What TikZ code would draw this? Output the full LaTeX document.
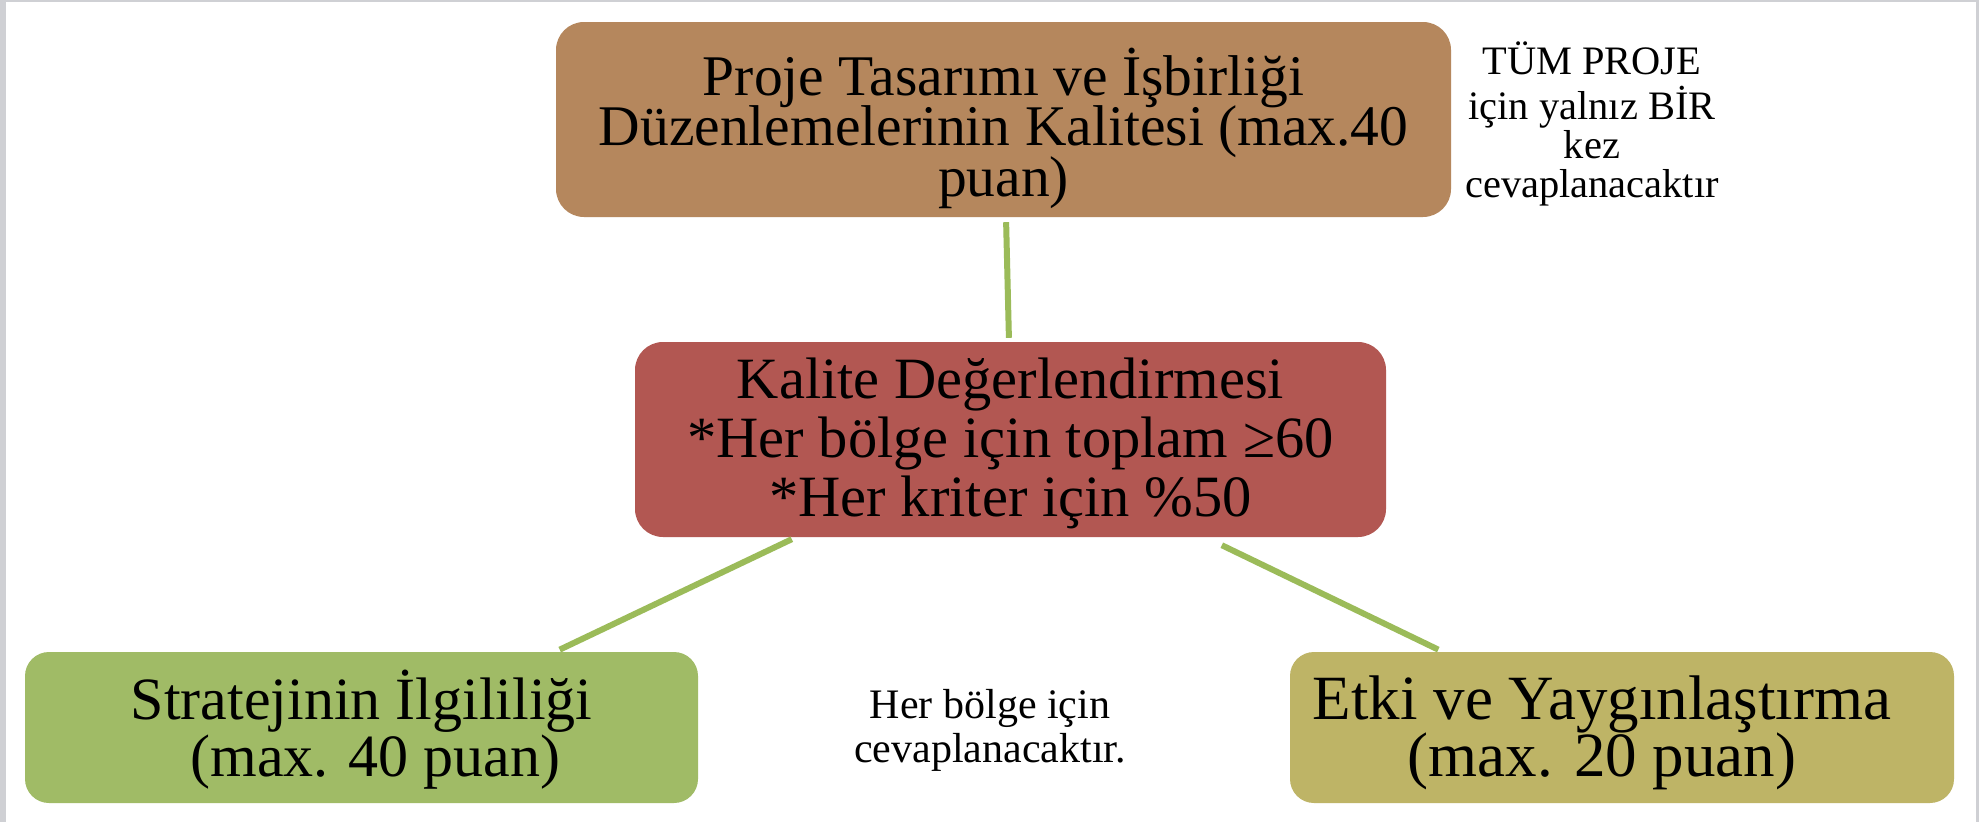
\documentclass[tikz,border=0pt]{standalone}
\usepackage{fontspec}
\setmainfont{Liberation Serif}
\newcommand\tightlines{\lineskiplimit=-100pt\relax}
\newcommand\topstrut[1]{\rule{0pt}{#1}}
\newcommand\botstrut[1]{\rule[-#1]{0pt}{0pt}}
\definecolor{bgGray}{RGB}{207,208,212}
\definecolor{topBrown}{RGB}{181,135,93}
\definecolor{midRed}{RGB}{178,87,82}
\definecolor{leftGreen}{RGB}{160,187,102}
\definecolor{rightOlive}{RGB}{190,180,102}
\definecolor{lineGreen}{RGB}{155,187,89}
\begin{document}
\begin{tikzpicture}[x=1pt,y=-1pt,
  box/.style={rounded corners=28pt, inner sep=0pt, align=center, text=black},
  note/.style={inner sep=0pt, align=center, text=black},
  conn/.style={draw=lineGreen, line width=6pt}]
\useasboundingbox (0,0) rectangle (1979,822);
\fill[bgGray] (0,0) rectangle (1979,822);
\fill[white] (6,2) rectangle (1976,822);
\node[box, fill=topBrown, minimum width=895pt, minimum height=195pt,
      font=\fontsize{57.5}{50.5}\selectfont\tightlines] (top) at (1003.5,119.5)
  {\topstrut{66pt}Proje Tasarımı ve İşbirliği\\Düzenlemelerinin Kalitesi (max.40\\puan)\botstrut{14pt}};
\node[box, fill=midRed, minimum width=751pt, minimum height=195pt,
      font=\fontsize{58.5}{59}\selectfont\tightlines] (mid) at (1010.5,439.5)
  {\topstrut{56pt}Kalite Değerlendirmesi\\*Her bölge için toplam ≥60\\*Her kriter için \%50\botstrut{21pt}};
\node[box, rounded corners=24pt, fill=leftGreen, minimum width=673pt, minimum height=151pt,
      font=\fontsize{60}{57}\selectfont\tightlines] (left) at (361.5,727.5)
  {\topstrut{58pt}Stratejinin İlgililiği\\\hspace*{28pt}(max. 40 puan)\botstrut{18pt}};
\node[box, rounded corners=24pt, fill=rightOlive, minimum width=664pt, minimum height=151pt,
      font=\fontsize{63}{57}\selectfont\tightlines] (right) at (1622,727.5)
  {\topstrut{58pt}Etki ve Yaygınlaştırma\hspace*{40pt}\\(max. 20 puan)\hspace*{40pt}\botstrut{18pt}};
\node[note, font=\fontsize{40.4}{39}\selectfont\tightlines] (rtext) at (1592,124)
  {TÜM PROJE\\[6pt]için yalnız BİR\\kez\\cevaplanacaktır};
\node[note, font=\fontsize{42}{44}\selectfont\tightlines] (ctext) at (990,730)
  {Her bölge için\\cevaplanacaktır.};
\draw[conn, shorten <=5pt, shorten >=4pt] ([xshift=2.5pt]top.south) -- ([xshift=-1.5pt]mid.north);
\draw[conn, shorten >=5pt] ([xshift=157pt,yshift=-2pt]mid.south west) -- ([xshift=-143pt]left.north east);
\draw[conn, shorten >=5pt] ([xshift=587pt,yshift=-8pt]mid.south west) -- ([xshift=153pt]right.north west);
\end{tikzpicture}
\end{document}
